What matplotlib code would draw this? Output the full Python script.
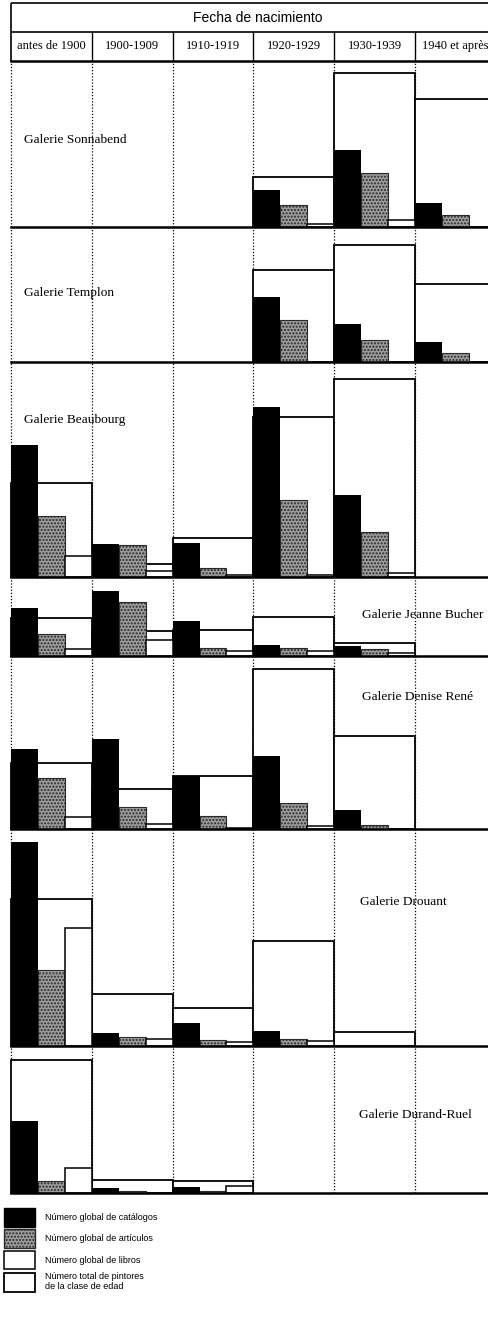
import numpy as np
import matplotlib
matplotlib.use("Agg")
import matplotlib.pyplot as plt
from matplotlib.patches import Patch

# data (heights in the chart's own units)
periodos = ['antes de 1900', '1900-1909', '1910-1919', '1920-1929', '1930-1939', '1940 et après']
galerias = ['Galerie Sonnabend', 'Galerie Templon', 'Galerie Beaubourg',
            'Galerie Jeanne Bucher', 'Galerie Denise René', 'Galerie Drouant',
            'Galerie Durand-Ruel']

catalogos = [
    [0, 0, 0, 37, 77, 24],
    [0, 0, 0, 65, 38, 20],
    [132, 33, 34, 170, 82, 0],
    [48, 65, 35, 11, 10, 0],
    [80, 90, 53, 73, 19, 0],
    [204, 13, 23, 15, 0, 0],
    [72, 5, 6, 0, 0, 0],
]
articulos = [
    [0, 0, 0, 22, 54, 12],
    [0, 0, 0, 42, 22, 9],
    [61, 32, 9, 77, 45, 0],
    [22, 54, 8, 8, 7, 0],
    [51, 22, 13, 26, 4, 0],
    [76, 9, 6, 7, 0, 0],
    [12, 2, 2, 0, 0, 0],
]
libros = [
    [0, 0, 0, 3, 7, 0],
    [0, 0, 0, 0, 0, 0],
    [21, 6, 2, 2, 4, 0],
    [7, 16, 5, 5, 3, 0],
    [12, 5, 1, 3, 0, 0],
    [118, 7, 4, 5, 0, 0],
    [25, 0, 7, 0, 0, 0],
]
pintores = [
    [0, 0, 0, 50, 154, 128],
    [0, 0, 0, 92, 117, 78],
    [94, 13, 39, 160, 198, 0],
    [38, 25, 26, 39, 13, 0],
    [66, 40, 53, 160, 93, 0],
    [147, 52, 38, 105, 14, 0],
    [133, 13, 12, 0, 0, 0],
]

# layout (pixels)
W, H = 488, 1319
x_left = 11
col_w = 80.8
ncols = (W - x_left) / col_w
bounds = [61, 227, 362, 577, 656, 829, 1046, 1193]
label_pos = [(0.16, 87), (0.16, 69), (0.16, 157), (4.34, 41),
             (4.34, 132), (4.32, 144), (4.31, 78)]

gray = '#9c9c9c'
serif = 'Liberation Serif'
sans = 'Liberation Sans'

fig = plt.figure(figsize=(W / 100, H / 100), dpi=100)


def px_axes(x0, y_top, x1, y_bot):
    ax = fig.add_axes([x0 / W, 1 - y_bot / H, (x1 - x0) / W, (y_bot - y_top) / H])
    ax.set_axis_off()
    return ax


# header
hx = px_axes(x_left, 0, W, bounds[0])
hx.set_xlim(0, ncols)
hx.set_ylim(bounds[0], 0)
hx.hlines([3, 32], 0, ncols, color='black', lw=1.2, clip_on=False)
hx.vlines(0, 3, bounds[0], color='black', lw=1.2, clip_on=False)
hx.vlines(np.arange(1, 6), 32, bounds[0], color='black', lw=1.0, clip_on=False)
hx.text(3.05, 17.5, 'Fecha de nacimiento', ha='center', va='center',
        family=sans, fontsize=10)
for i, p in enumerate(periodos):
    hx.text(i + 0.5, 46, p, ha='center', va='center', family=serif,
            fontsize=9, clip_on=False)
hx.axhline(bounds[0], color='black', lw=1.8, clip_on=False)

idx = np.arange(len(periodos))
for g, name in enumerate(galerias):
    top, bot = bounds[g], bounds[g + 1]
    ax = px_axes(x_left, top, W, bot)
    ax.set_xlim(0, ncols)
    ax.set_ylim(0, bot - top)

    ax.vlines(np.arange(0, 6), 0, bot - top, color='black', lw=0.9,
              linestyles=(0, (1, 1.5)), zorder=0, clip_on=False)

    tot = np.array(pintores[g])
    cat = np.array(catalogos[g])
    art = np.array(articulos[g])
    lib = np.array(libros[g])

    m = tot > 0
    ax.bar(idx[m], tot[m], width=1, align='edge', facecolor='white',
           edgecolor='black', lw=1.3, zorder=1, clip_on=False)
    m = cat > 0
    ax.bar(idx[m], cat[m], width=1 / 3, align='edge', color='black',
           zorder=2, clip_on=False)
    m = art > 0
    ax.bar(idx[m] + 1 / 3, art[m], width=1 / 3, align='edge', facecolor=gray,
           edgecolor='#2a2a2a', hatch='.....', lw=0.8, zorder=2, clip_on=False)
    m = lib > 0
    ax.bar(idx[m] + 2 / 3, lib[m], width=1 / 3, align='edge', facecolor='white',
           edgecolor='black', lw=1.1, zorder=2, clip_on=False)

    ax.axhline(0, color='black', lw=1.8, zorder=3, clip_on=False)
    lx, ly = label_pos[g]
    ax.text(lx, ly, name, ha='left', va='center', family=serif, fontsize=9.6,
            zorder=4)

handles = [
    Patch(facecolor='black', edgecolor='black'),
    Patch(facecolor=gray, edgecolor='#2a2a2a', hatch='.....'),
    Patch(facecolor='white', edgecolor='black', lw=1.1),
    Patch(facecolor='white', edgecolor='black', lw=1.3),
]
labels = ['Número global de catálogos', 'Número global de artículos',
          'Número global de libros', 'Número total de pintores\nde la clase de edad']
fig.legend(handles, labels, loc='upper left', bbox_to_anchor=(4 / W, 1 - 1208 / H),
           frameon=False, prop={'family': sans, 'size': 6.5},
           handlelength=3.4, handleheight=2.8, handletextpad=1.1,
           labelspacing=0.3, borderpad=0.0, borderaxespad=0)

fig.savefig('out.png', dpi=100)
